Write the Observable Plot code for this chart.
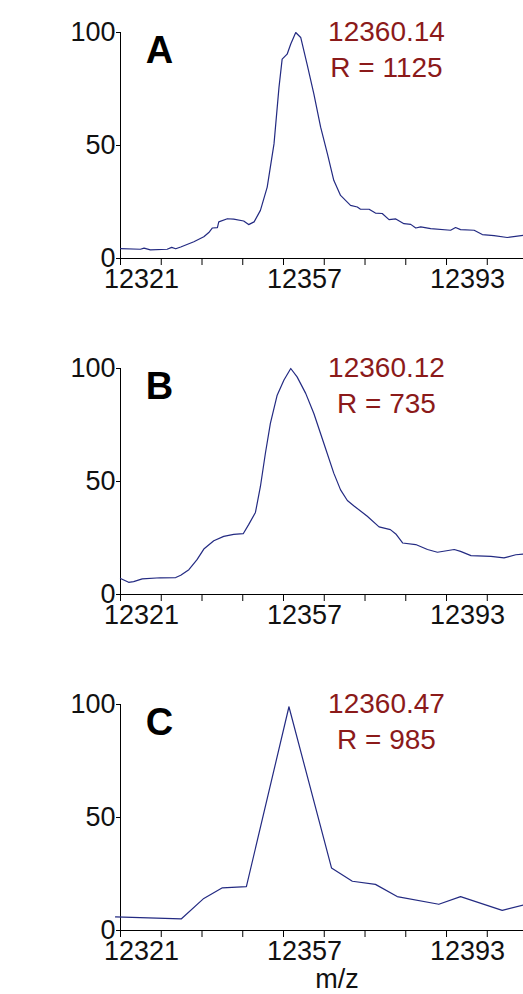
<!DOCTYPE html>
<html>
<head>
<meta charset="utf-8">
<script src="https://cdn.jsdelivr.net/npm/d3@7"></script>
<script src="https://cdn.jsdelivr.net/npm/@observablehq/plot@0.6"></script>
<style>
  html, body { margin: 0; padding: 0; background: #fff; }
  #wrap { position: relative; width: 523px; height: 994px; overflow: hidden; font-family: "Liberation Sans", Arial, sans-serif; }
  .panel { position: absolute; left: 0; }
  #ytitle { position: absolute; left: 28px; top: 448px; transform: translate(-50%, -50%) rotate(-90deg); white-space: nowrap; font-size: 28px; color: #111; }
</style>
</head>
<body>
<div id="wrap"><div id="ytitle">MALDI Ion Signal (%)</div></div>
<script>
// ---- data ----
const panelLetters = ["A", "B", "C"];
const peakMasses = ["12360.14", "12360.12", "12360.47"];
const resolutions = ["R = 1125", "R = 735", "R = 985"];
const xTickPositions = [12321, 12330, 12339, 12348, 12357, 12366, 12375, 12384, 12393, 12402];
const xTickLabels = [12321, 12357, 12393];
const yTickLabels = [0, 50, 100];
const xTitle = "m/z";

const mzA = [12321, 12325.4, 12326.2, 12327.6, 12331.3, 12332.3, 12333.2, 12334.3, 12337.2, 12339.4, 12340.5, 12341.3, 12342.4, 12342.7, 12344.6, 12346.0, 12348.2, 12349.3, 12350.5, 12351.9, 12353.4, 12354.9, 12356.0, 12356.7, 12357.8, 12358.6, 12359.7, 12360.8, 12362.2, 12363.7, 12365.2, 12366.7, 12368.1, 12369.6, 12371.8, 12373.3, 12374.0, 12375.9, 12377.3, 12378.8, 12380.3, 12381.8, 12383.6, 12385.1, 12386.2, 12387.3, 12389.5, 12393.9, 12395.0, 12396.1, 12399.1, 12400.9, 12403.5, 12406.4, 12410.0];
const sigA = [4.4, 4.1, 4.6, 3.8, 4.1, 4.9, 4.3, 5.1, 7.4, 9.6, 11.5, 13.5, 13.7, 16.2, 17.6, 17.4, 16.6, 15.0, 16.2, 21.3, 31.6, 50.7, 75.7, 88.2, 90.4, 94.9, 100, 97.8, 86, 72.8, 58.1, 46.3, 34.6, 27.9, 23.5, 22.8, 21.8, 21.8, 20.1, 19.9, 17.2, 17.5, 15.4, 15.1, 13.5, 14.0, 13.2, 12.5, 13.7, 12.8, 12.5, 10.6, 10.1, 9.3, 10.3];

const mzB = [12321, 12322.8, 12323.9, 12325.8, 12329.8, 12333.2, 12334.3, 12336.1, 12337.9, 12339.4, 12341.6, 12343.8, 12346.0, 12348.1, 12349.3, 12350.8, 12351.9, 12353.0, 12354.1, 12355.6, 12357.1, 12358.6, 12360.0, 12361.9, 12363.7, 12365.9, 12368.1, 12369.6, 12371.1, 12372.5, 12375.5, 12378.1, 12380.6, 12381.8, 12383.3, 12386.2, 12388.8, 12391.0, 12394.7, 12396.1, 12398.4, 12402.8, 12405.7, 12408.3, 12410.0];
const sigB = [7.1, 5.4, 5.7, 6.9, 7.4, 7.5, 8.5, 11.0, 15.4, 20.1, 23.8, 25.7, 26.6, 26.9, 30.9, 36.3, 47.8, 62.5, 75.7, 88.2, 94.9, 100, 96.3, 89, 80.1, 66.9, 53.7, 46.3, 41.6, 39.3, 34.6, 29.9, 28.7, 26.8, 22.8, 22.1, 19.9, 18.7, 19.9, 19.1, 17.2, 16.9, 16.2, 17.6, 17.9];

const mzC = [12319.9, 12334.4, 12339.4, 12343.5, 12348.8, 12358.2, 12367.6, 12372.2, 12377.3, 12382.1, 12391.3, 12396.1, 12405.3, 12410.0];
const sigC = [6.0, 5.1, 14.2, 18.9, 19.4, 99, 27.7, 21.8, 20.4, 15.0, 11.6, 15.0, 8.9, 11.3];

const spectra = [[mzA, sigA], [mzB, sigB], [mzC, sigC]];

// ---- drawing ----
const font = "'Liberation Sans', Arial, sans-serif";
const lineColor = "#232a82";
const annColor = "#8b1a1a";
const wrap = document.getElementById("wrap");
const tops = [0, 336, 672];
const heights = [336, 336, 322];

spectra.forEach(([mz, sig], i) => {
  const data = mz.map((m, k) => ({mz: m, s: sig[k]}));
  const marks = [
    Plot.ruleY([0], {stroke: "#000", strokeWidth: 1}),
    Plot.ruleX([xTickLabels[0]], {y1: 0, y2: 100, stroke: "#000", strokeWidth: 1}),
    Plot.axisX({ticks: xTickPositions, tickSize: 7, tickFormat: () => "", label: null, stroke: "#000"}),
    Plot.axisX({ticks: xTickLabels, tickSize: 0, tickPadding: 10, dx: 21, fontSize: 27, label: null, tickFormat: d => String(d), fill: "#111"}),
    Plot.axisY({ticks: yTickLabels, tickSize: 4, tickPadding: 1, fontSize: 27, label: null, fill: "#111"}),
    Plot.line(data, {x: "mz", y: "s", stroke: lineColor, strokeWidth: 1.2}),
    Plot.text([panelLetters[i]], {frameAnchor: "top-left", dx: 39, dy: 4, lineAnchor: "top", textAnchor: "middle", fontSize: 38, fontWeight: "bold", fill: "#000"}),
    Plot.text([peakMasses[i] + "\n" + resolutions[i]], {frameAnchor: "top-left", dx: 266, dy: -17, lineAnchor: "top", textAnchor: "middle", fontSize: 28, lineHeight: 1.29, fill: annColor})
  ];
  if (i === 2) {
    marks.push(Plot.text([xTitle], {frameAnchor: "bottom", dx: 15, dy: 49, lineAnchor: "middle", textAnchor: "middle", fontSize: 27, fill: "#111"}));
  }
  const chart = Plot.plot({
    width: 523,
    height: heights[i],
    marginLeft: 120,
    marginRight: 0,
    marginTop: 32,
    marginBottom: heights[i] - 32 - 226,
    style: {fontFamily: font, background: "#fff", overflow: "visible"},
    x: {domain: [12321, 12410]},
    y: {domain: [0, 100]},
    marks
  });
  const div = document.createElement("div");
  div.className = "panel";
  div.style.top = tops[i] + "px";
  div.appendChild(chart);
  wrap.appendChild(div);
});
</script>
</body>
</html>
